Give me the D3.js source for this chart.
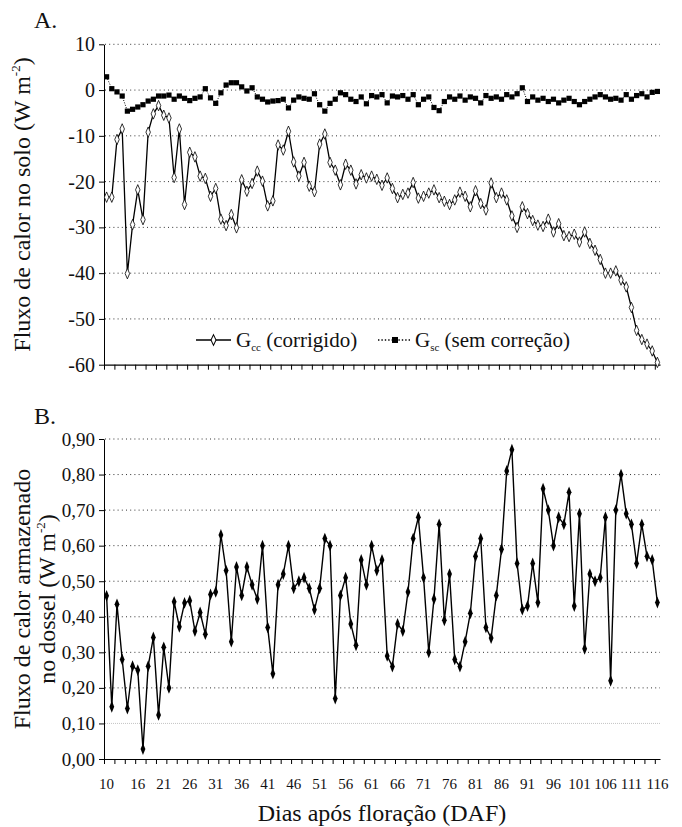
<!DOCTYPE html>
<html>
<head>
<meta charset="utf-8">
<script src="https://cdn.jsdelivr.net/npm/d3@7"></script>
<style>
  body { margin: 0; background: #fff; }
  text { font-family: 'Liberation Serif' !important; }
</style>
</head>
<body>
<svg id="chart" width="682" height="827"></svg>
<script>
// days after flowering (categories)
const days = d3.range(10, 117);
const dayLabels = [10, 16, 21, 26, 31, 36, 41, 46, 51, 56, 61, 66, 71, 76, 81, 86, 91, 96, 101, 106, 111, 116];

// A. soil heat flux, corrected (W m-2)
const gcc = [
  -23.4, -23.4, -10.8, -8.5, -40.1, -29.4, -21.8, -28.3, -9.2, -5.2,
  -3.4, -5.5, -6.1, -19.1, -8.5, -25.0, -13.6, -14.6, -18.8, -19.3,
  -23.2, -21.5, -28.2, -29.6, -27.2, -30.1, -19.6, -22.1, -20.4, -17.7,
  -19.9, -25.3, -24.2, -12.0, -13.1, -9.0, -15.7, -18.8, -15.8, -21.0,
  -22.2, -11.8, -9.6, -15.8, -17.5, -20.7,
  -16.2, -17.5, -20.5, -18.5, -19.2, -18.8, -19.5, -20.8, -19.2, -21.5,
  -23.5, -22.8, -22.5, -20.2, -23.6, -23.2, -22.5, -21.8, -23.5, -24.3,
  -25.0, -24.0, -22.3, -23.2, -25.5, -22.0, -24.8, -26.2,
  -20.3, -23.5, -22.5, -24.0, -27.5, -30.0, -25.5, -27.0, -28.5, -29.5,
  -29.8, -28.2, -31.0, -29.2, -31.8, -32.0, -31.5, -33.2, -31.0, -33.5,
  -35.0, -37.0, -40.0, -40.0, -39.5, -41.5, -43.0, -47.5, -52.5, -54.5,
  -55.5, -57.0, -59.5
];

// A. soil heat flux, without correction (W m-2)
const gsc = [
  2.9, 0.3, -0.4, -1.3, -4.6, -4.2, -3.7, -3.2, -2.4, -2.0,
  -1.3, -1.3, -1.1, -2.0, -1.3, -1.8, -2.3, -1.8, -1.5, 0.3,
  -1.7, -2.9, -0.6, 1.1, 1.6, 1.6, 0.7, -0.2, 0.5, -1.5,
  -2.0, -2.6, -2.4, -2.3, -2.0, -3.9, -2.2, -1.5, -1.8, -2.0,
  -0.8, -3.2, -4.6, -2.9, -2.0, -0.6,
  -1.0, -2.0, -2.5, -1.5, -3.0, -1.2, -1.5, -1.0, -2.8, -1.3,
  -1.5, -1.2, -2.0, -1.0, -3.2, -2.0, -1.5, -3.8, -4.5, -2.5,
  -1.5, -2.0, -1.3, -2.2, -1.5, -1.8, -2.8, -1.2, -1.8, -1.5,
  -2.0, -1.0, -1.5, -0.8, 0.5, -2.5, -1.5, -2.2, -1.8, -2.5,
  -2.0, -2.8, -2.2, -1.8, -2.5, -3.2, -2.5, -2.0, -1.5, -1.0,
  -1.5, -2.0, -1.8, -2.2, -1.0, -2.0, -1.2, -0.8, -1.5, -0.5,
  -0.3
];

// B. heat stored in the canopy (W m-2)
const dossel = [
  0.459, 0.147, 0.435, 0.280, 0.142, 0.261, 0.250, 0.028, 0.261, 0.342,
  0.124, 0.314, 0.200, 0.442, 0.372, 0.439, 0.445, 0.360, 0.412, 0.351,
  0.463, 0.470,
  0.63, 0.53, 0.33, 0.54, 0.46, 0.54, 0.49, 0.45, 0.60, 0.37,
  0.24, 0.49, 0.52, 0.60, 0.48, 0.50, 0.51, 0.48, 0.42, 0.48,
  0.62, 0.60, 0.17,
  0.46, 0.51, 0.38, 0.32, 0.56, 0.49, 0.60, 0.53, 0.56, 0.29,
  0.26, 0.38, 0.36, 0.47, 0.62, 0.68, 0.51, 0.30, 0.45, 0.66,
  0.39, 0.52, 0.28, 0.26, 0.33, 0.41, 0.57, 0.62, 0.37, 0.34,
  0.46, 0.59, 0.81, 0.87,
  0.55, 0.42, 0.43, 0.55, 0.44, 0.76, 0.70, 0.60, 0.68, 0.66,
  0.75, 0.43, 0.69, 0.31, 0.52, 0.50, 0.51, 0.68, 0.22, 0.70,
  0.80, 0.69, 0.66, 0.55, 0.66, 0.57, 0.56, 0.44
];

const ticksA = [10, 0, -10, -20, -30, -40, -50, -60];
const ticksB = [0, 0.1, 0.2, 0.3, 0.4, 0.5, 0.6, 0.7, 0.8, 0.9];

const FONT = 'Liberation Serif';
const svg = d3.select('#chart').attr('font-family', FONT);
const X0 = 104, X1 = 660;

const x = d3.scaleBand().domain(days).range([X0, X1]);
const xEdge = d3.scaleLinear().domain([9.5, 116.5]).range([X0, X1]);
const cx = d => x(d) + x.bandwidth() / 2;

const yA = d3.scaleLinear().domain([-60, 10]).range([364.7, 44.3]);
const yB = d3.scaleLinear().domain([0, 0.9]).range([759, 439]);

const fmtB = d => d3.format('.2f')(d).replace('.', ',');

function txt(sel, size) {
  return sel.append('text').attr('font-family', FONT).attr('font-size', size).attr('fill', '#111');
}

function grid(g, y, values, light) {
  g.selectAll('line').data(values).join('line')
    .attr('x1', X0 + 1).attr('x2', X1)
    .attr('y1', d => y(d)).attr('y2', d => y(d))
    .attr('stroke', d => light && light(d) ? '#aaa' : '#333')
    .attr('stroke-width', d => light && light(d) ? 0.7 : 1)
    .attr('stroke-dasharray', d => light && light(d) ? '1,1' : '1,3.2');
}

function yAxis(y, values, fmt, size) {
  const g = svg.append('g').attr('transform', `translate(${X0},0)`)
    .call(d3.axisLeft(y).tickValues(values).tickFormat(fmt).tickSize(5).tickSizeOuter(0).tickPadding(4));
  g.attr('font-family', FONT).attr('font-size', size);
  g.select('.domain').attr('stroke', '#000');
  g.selectAll('.tick line').attr('stroke', '#000');
  g.selectAll('.tick text').attr('font-family', FONT).attr('fill', '#111');
}

function xTickMarks(yPos) {
  const g = svg.append('g').attr('transform', `translate(0,${yPos})`)
    .call(d3.axisBottom(xEdge).tickValues(d3.range(9.5, 117, 2)).tickFormat('').tickSize(5).tickSizeOuter(0));
  g.select('.domain').attr('stroke', '#000').attr('stroke-width', 1.2);
  g.selectAll('.tick line').attr('stroke', '#000');
  return g;
}

// ---------- panel A ----------
grid(svg.append('g'), yA, [10, 0, -10, -20, -30, -40, -50]);
yAxis(yA, ticksA, d => d, 20);
xTickMarks(yA(-60));

const lineA = d3.line().x((d, i) => cx(days[i])).y(d => yA(d));

svg.append('path').datum(gsc).attr('d', lineA)
  .attr('fill', 'none').attr('stroke', '#000').attr('stroke-width', 1).attr('stroke-dasharray', '1,1.5');
svg.append('g').selectAll('rect').data(gsc).join('rect')
  .attr('x', (d, i) => cx(days[i]) - 2.6).attr('y', d => yA(d) - 2.6)
  .attr('width', 5.2).attr('height', 5.2).attr('fill', '#000');

svg.append('path').datum(gcc).attr('d', lineA)
  .attr('fill', 'none').attr('stroke', '#000').attr('stroke-width', 1.3);
const openDiamond = d3.symbol(d3.symbolDiamond, 24)();
svg.append('g').selectAll('path').data(gcc).join('path')
  .attr('d', openDiamond)
  .attr('transform', (d, i) => `translate(${cx(days[i])},${yA(d)}) scale(0.85,1.15)`)
  .attr('fill', '#fff').attr('stroke', '#000').attr('stroke-width', 0.8);

// legend A
const ly = yA(-54.6);
const leg = svg.append('g');
leg.append('line').attr('x1', 196).attr('x2', 231).attr('y1', ly).attr('y2', ly)
  .attr('stroke', '#000').attr('stroke-width', 1.6);
leg.append('path').attr('d', openDiamond)
  .attr('transform', `translate(213.5,${ly}) scale(0.95,1.15)`)
  .attr('fill', '#fff').attr('stroke', '#000').attr('stroke-width', 1);
const t1 = txt(leg, 21).attr('x', 236).attr('y', ly + 7);
t1.append('tspan').text('G');
t1.append('tspan').attr('font-size', 11).attr('dy', 4).text('cc');
t1.append('tspan').attr('dy', -4).text(' (corrigido)');
leg.append('line').attr('x1', 378).attr('x2', 411).attr('y1', ly).attr('y2', ly)
  .attr('stroke', '#000').attr('stroke-width', 1.4).attr('stroke-dasharray', '1.4,2');
leg.append('rect').attr('x', 392).attr('y', ly - 3).attr('width', 6).attr('height', 6).attr('fill', '#000');
const t2 = txt(leg, 21).attr('x', 415).attr('y', ly + 7);
t2.append('tspan').text('G');
t2.append('tspan').attr('font-size', 11).attr('dy', 4).text('sc');
t2.append('tspan').attr('dy', -4).text(' (sem correção)');

// ---------- panel B ----------
grid(svg.append('g'), yB, [0.1, 0.2, 0.3, 0.4, 0.5, 0.6, 0.7, 0.8, 0.9], d => d === 0.1);
yAxis(yB, ticksB, fmtB, 19);
xTickMarks(yB(0));

const xl = svg.append('g').attr('transform', `translate(0,${yB(0) + 10})`)
  .call(d3.axisBottom(x).tickValues(dayLabels).tickSize(0).tickPadding(9));
xl.attr('font-family', FONT).attr('font-size', 15);
xl.select('.domain').remove();
xl.selectAll('.tick text').attr('font-family', FONT).attr('fill', '#111');

const lineB = d3.line().x((d, i) => cx(days[i])).y(d => yB(d));
svg.append('path').datum(dossel).attr('d', lineB)
  .attr('fill', 'none').attr('stroke', '#000').attr('stroke-width', 1.4);
const fullDiamond = d3.symbol(d3.symbolDiamond, 28)();
svg.append('g').selectAll('path').data(dossel).join('path')
  .attr('d', fullDiamond)
  .attr('transform', (d, i) => `translate(${cx(days[i])},${yB(d)}) scale(0.85,1.2)`)
  .attr('fill', '#000');

// ---------- labels ----------
txt(svg, 24).attr('x', 34).attr('y', 28).text('A.');
txt(svg, 24).attr('x', 34).attr('y', 424).text('B.');

function unitTitle(sel, pre) {
  sel.append('tspan').text(pre + 'W m');
  sel.append('tspan').attr('font-size', 13).attr('dy', -10).text('-2');
  sel.append('tspan').attr('dy', 10).text(')');
}

const tA = txt(svg, 24).attr('transform', `translate(30,${(yA(10) + yA(-60)) / 2}) rotate(-90)`)
  .attr('text-anchor', 'middle');
unitTitle(tA, 'Fluxo de calor no solo (');

const cB = (yB(0) + yB(0.9)) / 2;
txt(svg, 24).attr('transform', `translate(30,${cB}) rotate(-90)`)
  .attr('text-anchor', 'middle')
  .text('Fluxo de calor armazenado');
const tB = txt(svg, 24).attr('transform', `translate(55,${cB}) rotate(-90)`)
  .attr('text-anchor', 'middle');
unitTitle(tB, 'no dossel (');

txt(svg, 24).attr('x', (X0 + X1) / 2).attr('y', 821).attr('text-anchor', 'middle')
  .text('Dias após floração (DAF)');
</script>
</body>
</html>
